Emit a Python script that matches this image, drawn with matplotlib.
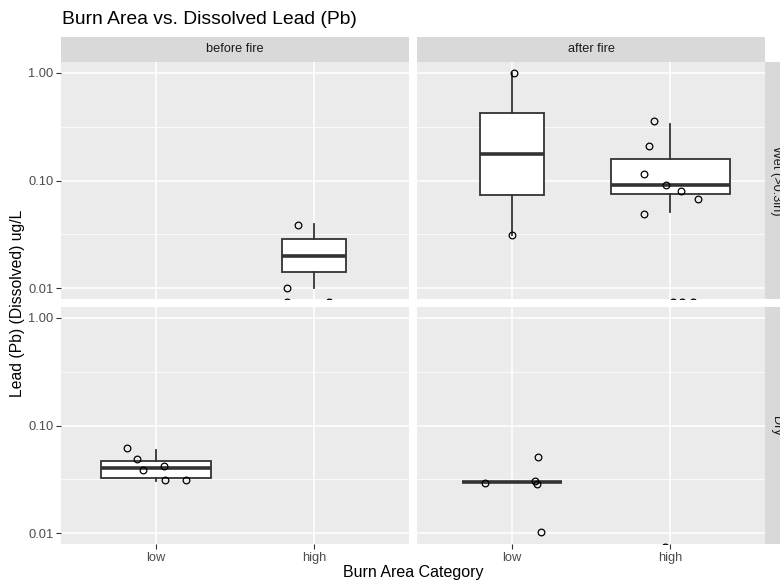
import matplotlib.pyplot as plt
import numpy as np
from matplotlib.patches import Rectangle

plt.rcParams['font.family'] = ['Liberation Sans', 'DejaVu Sans']

# facets and categories
col_labels = ['before fire', 'after fire']
row_labels = ['Wet (>0.3in)', 'Dry']
categories = ['low', 'high']
y_ticks = [0.01, 0.10, 1.00]
y_ticklabels = ['0.01', '0.10', '1.00']

# box stats: whislo, q1, med, q3, whishi
wet_before_high_box = [0.0100, 0.0142, 0.0200, 0.0289, 0.0398]
wet_after_low_box = [0.0310, 0.0730, 0.1760, 0.4270, 1.0000]
wet_after_high_box = [0.0507, 0.0757, 0.0912, 0.1600, 0.3360]
dry_before_low_box = [0.0303, 0.0323, 0.0401, 0.0472, 0.0594]
dry_after_low_box = [0.0300, 0.0300, 0.0300, 0.0300, 0.0300]

# jittered points: value and jitter offset (category units)
wet_before_high_pts = [0.0386, 0.0100, 0.0075, 0.0075]
wet_before_high_jit = [-0.10, -0.17, -0.17, 0.095]
wet_after_low_pts = [1.000, 0.031]
wet_after_low_jit = [0.013, 0.0]
wet_after_high_pts = [0.354, 0.207, 0.116, 0.0899, 0.0802, 0.068, 0.049, 0.0075, 0.0075, 0.0075]
wet_after_high_jit = [-0.099, -0.131, -0.165, -0.023, 0.072, 0.177, -0.165, 0.017, 0.074, 0.147]
dry_before_low_pts = [0.0615, 0.0486, 0.0387, 0.0422, 0.0310, 0.0310]
dry_before_low_jit = [-0.184, -0.118, -0.080, 0.049, 0.055, 0.190]
dry_after_low_pts = [0.0515, 0.0295, 0.0304, 0.0287, 0.0102]
dry_after_low_jit = [0.163, -0.169, 0.143, 0.160, 0.185]
dry_after_high_pts = [0.0075]
dry_after_high_jit = [-0.03]

# (row, col, category index, box stats, box width, points, jitter)
groups = [
    (0, 0, 1, wet_before_high_box, 0.405, wet_before_high_pts, wet_before_high_jit),
    (0, 1, 0, wet_after_low_box, 0.405, wet_after_low_pts, wet_after_low_jit),
    (0, 1, 1, wet_after_high_box, 0.753, wet_after_high_pts, wet_after_high_jit),
    (1, 0, 0, dry_before_low_box, 0.696, dry_before_low_pts, dry_before_low_jit),
    (1, 1, 0, dry_after_low_box, 0.633, dry_after_low_pts, dry_after_low_jit),
    (1, 1, 1, None, 0, dry_after_high_pts, dry_after_high_jit),
]

W, H = 780, 581
fig = plt.figure(figsize=(W / 100, H / 100), dpi=100)

def px(x0, y0, x1, y1):
    return [x0 / W, 1 - y1 / H, (x1 - x0) / W, (y1 - y0) / H]

panel_x = [(61, 409), (417, 765)]
panel_y = [(62, 299), (307, 544)]
axes = {}
for r in range(2):
    for c in range(2):
        ax = fig.add_axes(px(panel_x[c][0], panel_y[r][0], panel_x[c][1], panel_y[r][1]))
        ax.set_facecolor('#EBEBEB')
        ax.set_yscale('log')
        ax.set_ylim(10 ** -2.1, 10 ** 0.1)
        ax.set_xlim(0.4, 2.6)
        for s in ax.spines.values():
            s.set_visible(False)
        ax.set_axisbelow(True)
        ax.set_yticks(y_ticks)
        ax.set_yticks([10 ** -1.5, 10 ** -0.5], minor=True)
        ax.set_xticks([1, 2])
        ax.grid(True, which='major', color='white', linewidth=1.1)
        ax.grid(True, which='minor', axis='y', color='white', linewidth=0.55)
        ax.tick_params(which='minor', length=0)
        ax.tick_params(which='major', length=3.5, width=0.8, color='#333333',
                       labelcolor='#4D4D4D', labelsize=9.3, pad=2)
        if c == 0:
            ax.set_yticklabels(y_ticklabels)
        else:
            ax.tick_params(axis='y', which='major', left=False, labelleft=False)
        if r == 1:
            ax.set_xticklabels(categories)
        else:
            ax.tick_params(axis='x', which='major', bottom=False, labelbottom=False)
        axes[(r, c)] = ax

for r, c, k, box, w, pts, jit in groups:
    ax = axes[(r, c)]
    if box is not None:
        stats = [dict(whislo=box[0], q1=box[1], med=box[2], q3=box[3], whishi=box[4])]
        ax.bxp(stats, positions=[k + 1], widths=[w], patch_artist=True,
               showfliers=False, showcaps=False,
               boxprops=dict(facecolor='white', edgecolor='#333333', linewidth=1.3),
               whiskerprops=dict(color='#333333', linewidth=1.3),
               medianprops=dict(color='#333333', linewidth=2.6, solid_capstyle='butt'),
               manage_ticks=False)
    ax.plot(k + 1 + np.array(jit), pts, linestyle='none', marker='o', markersize=4.8,
            markerfacecolor='none', markeredgecolor='black', markeredgewidth=0.9, zorder=5)

# top strips
for c in range(2):
    fig.add_artist(Rectangle((panel_x[c][0] / W, 1 - 62 / H), (panel_x[c][1] - panel_x[c][0]) / W,
                             25 / H, transform=fig.transFigure, facecolor='#D9D9D9',
                             edgecolor='none'))
    fig.text((panel_x[c][0] + panel_x[c][1]) / 2 / W, 1 - 49.5 / H, col_labels[c],
             ha='center', va='center', fontsize=9.2, color='#1A1A1A')

# right strips (cut off by the image edge, as in the original)
for r in range(2):
    fig.add_artist(Rectangle((765 / W, 1 - panel_y[r][1] / H), 25 / W,
                             (panel_y[r][1] - panel_y[r][0]) / H, transform=fig.transFigure,
                             facecolor='#D9D9D9', edgecolor='none'))
    fig.text(776 / W, 1 - (panel_y[r][0] + panel_y[r][1]) / 2 / H, row_labels[r],
             ha='center', va='center', rotation=-90, fontsize=9.2, color='#1A1A1A')

fig.text(62 / W, 1 - 20 / H, 'Burn Area vs. Dissolved Lead (Pb)', ha='left', va='center',
         fontsize=13.9, color='black')
fig.text(413 / W, 1 - 573 / H, 'Burn Area Category', ha='center', va='center',
         fontsize=11.5, color='black')
fig.text(18 / W, 1 - 303 / H, 'Lead (Pb) (Dissolved) ug/L', ha='center', va='center',
         rotation=90, fontsize=11.3, color='black')

fig.savefig('out.png', dpi=100)
